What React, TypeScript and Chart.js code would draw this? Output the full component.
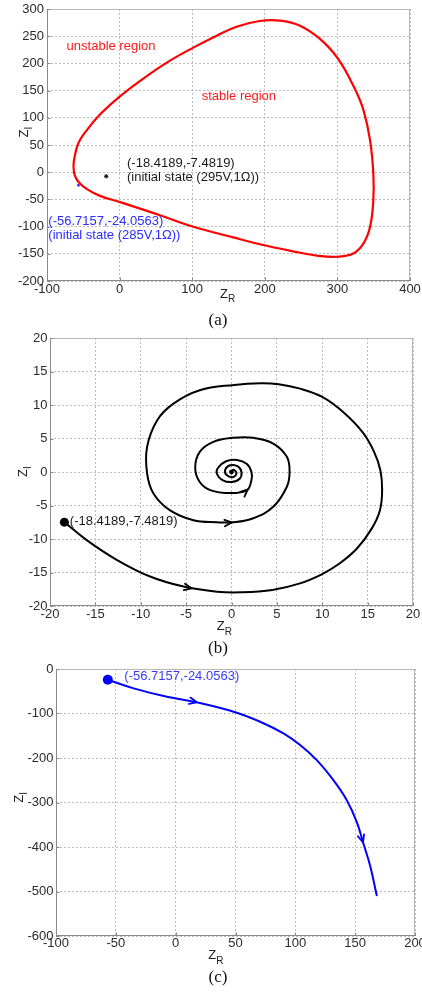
import React, { useEffect, useRef } from "react";
import { Chart, registerables } from "chart.js";

Chart.register(...registerables);

const SANS = '"Liberation Sans", Arial, Helvetica, sans-serif';
const SERIF = '"Liberation Serif", "Times New Roman", serif';

// ---------- (a) stability boundary in the Z_R / Z_I plane ----------
const A_BOUNDARY_ZR = [
  -63.5, -62.8, -56.9, -45.3, -26.7, 0.5, 28.8, 65, 101.5, 133.7, 161, 193, 221, 248.5, 276, 301, 324, 336, 345,
  349.5, 349.5, 345, 336, 322, 299, 276, 248.5, 202.6, 156.7, 101.6, 55.6, 0.5, -27, -45, -56, -62, -63.5,
];
const A_BOUNDARY_ZI = [
  10, 22, 53, 77, 106.6, 139.5, 168.5, 201.5, 229, 251, 267.5, 278, 278.6, 269.4, 245, 208.3, 153.3, 113.6, 58.6,
  -2.6, -51.5, -100.4, -130.9, -149.3, -155.4, -154.2, -148, -135.2, -119.9, -100.4, -79, -55, -43.5, -31, -19, -5, 10,
];
const A_STATE_295V = { x: -18.4189, y: -7.4819 };
const A_STATE_285V = { x: -56.7157, y: -24.0563 };

// ---------- (b) trajectory from the 295V initial state ----------
const B_ZR = [
  -18.4189, -15.96, -12.65, -8.97, -5.29, -1.6, 0.96, 4.5, 7.55, 10, 11.82, 13.8, 15.45, 16.36, 16.6, 16.4, 15.7, 14.5,
  12.3, 10, 7.55, 5.2, 3.2, 0.3, -3.5, -6.4, -8.2, -9.3, -9.3, -8.6, -6.8, -4.2, -1.6, 0.2, 2.4, 4.6, 6.1, 6.4, 6.1,
  4.6, 2.4, 0.2, -2.0, -3.5, -4.0, -3.5, -2.35, -0.15, 1.7, 2.2, 2.2, 1.7, 0.6, -0.6, -1.5, -1.6, -1.0, 0.0, 0.9, 1.1,
  0.7, -0.15, -0.7, -0.5, 0.2, 0.55, 0.2, 0,
];
const B_ZI = [
  -7.4819, -10.16, -13.1, -15.6, -17.1, -17.86, -17.96, -17.6, -16.62, -15.23, -13.74, -11.46, -8.45, -5.7, -2.7, 0.3,
  3.05, 5.85, 8.95, 11.2, 12.44, 13.1, 13.25, 13.0, 12.2, 10.2, 7.7, 3.75, -0.2, -3.2, -5.7, -7.2, -7.5, -7.5, -6.9,
  -5.2, -2.2, 0, 2.26, 4.25, 5.1, 5.1, 4.5, 3.0, 0.6, -1.5, -2.7, -3.15, -2.7, -1.2, 0, 1.2, 1.8, 1.6, 0.6, -0.3, -1.2,
  -1.5, -1.0, 0, 0.85, 1.0, 0.3, -0.5, -0.75, -0.15, 0.35, 0,
];
const B_ARROWS = [
  { x: -4.4, y: -17.2 },
  { x: 0.04, y: -7.48 },
  { x: 1.75, y: -2.55 },
];

// ---------- (c) trajectory from the 285V initial state ----------
const C_ZR = [-56.7157, -35.1, -7.3, 17.7, 48.4, 70.6, 90.1, 104, 117.9, 131.8, 143, 151.3, 156.9, 162.4, 168];
const C_ZI = [-24.0563, -43.5, -62.3, -75, -96, -118.5, -144.8, -171, -204.8, -249.8, -294.8, -343.5, -392.3, -441, -508.5];
const C_ARROWS = [
  { x: 17.7, y: -73.5 },
  { x: 156.9, y: -388.5 },
];

const CAPTIONS = ["(a)", "(b)", "(c)"];

const GRID = "#bcbcbc";
const AXIS_DARK = "#8a8a8a";
const AXIS_LIGHT = "#b8b8b8";
const TICK_TEXT = "#2b2b2b";

const zip = (xs: number[], ys: number[]) => xs.map((x, i) => ({ x, y: ys[i] }));

type PanelCfg = {
  top: number;
  height: number;
  area: { left: number; right: number; top: number; bottom: number };
  x: { min: number; max: number; step: number };
  y: { min: number; max: number; step: number };
  xTickPad: number;
  yTickPad: number;
  datasets: any[];
  arrows: { ds: number; pts: { x: number; y: number }[]; color: string };
  texts: { x: number; y: number; dx?: number; dy?: number; lines: string[]; color: string; gap?: number }[];
  xLabel: { x: number; y: number };
  yLabel: { x: number; y: number };
};

function drawArrow(ctx: CanvasRenderingContext2D, x: number, y: number, ang: number, color: string) {
  const len = 8;
  const a = 0.42;
  ctx.save();
  ctx.strokeStyle = color;
  ctx.lineWidth = 1.8;
  ctx.lineCap = "round";
  ctx.lineJoin = "miter";
  ctx.beginPath();
  ctx.moveTo(x - len * Math.cos(ang - a), y - len * Math.sin(ang - a));
  ctx.lineTo(x, y);
  ctx.lineTo(x - len * Math.cos(ang + a), y - len * Math.sin(ang + a));
  ctx.stroke();
  ctx.restore();
}

// closest point on the drawn bezier path + its tangent
function locateOnCurve(els: any[], tx: number, ty: number) {
  let best = { d: Infinity, x: tx, y: ty, ang: 0 };
  for (let i = 0; i < els.length - 1; i++) {
    const p0 = els[i];
    const p3 = els[i + 1];
    const c1x = p0.cp2x ?? p0.x;
    const c1y = p0.cp2y ?? p0.y;
    const c2x = p3.cp1x ?? p3.x;
    const c2y = p3.cp1y ?? p3.y;
    for (let k = 0; k <= 40; k++) {
      const t = k / 40;
      const u = 1 - t;
      const bx = u * u * u * p0.x + 3 * u * u * t * c1x + 3 * u * t * t * c2x + t * t * t * p3.x;
      const by = u * u * u * p0.y + 3 * u * u * t * c1y + 3 * u * t * t * c2y + t * t * t * p3.y;
      const d = (bx - tx) ** 2 + (by - ty) ** 2;
      if (d < best.d) {
        const dx = 3 * u * u * (c1x - p0.x) + 6 * u * t * (c2x - c1x) + 3 * t * t * (p3.x - c2x);
        const dy = 3 * u * u * (c1y - p0.y) + 6 * u * t * (c2y - c1y) + 3 * t * t * (p3.y - c2y);
        best = { d, x: bx, y: by, ang: Math.atan2(dy, dx) };
      }
    }
  }
  return best;
}

function makeDecor(cfg: PanelCfg) {
  return {
    id: "decor",
    afterDraw(chart: any) {
      const { ctx, chartArea: a, scales } = chart;
      const xs = scales.x;
      const ys = scales.y;
      ctx.save();
      // axes box
      ctx.lineWidth = 1;
      ctx.strokeStyle = AXIS_LIGHT;
      ctx.beginPath();
      ctx.moveTo(a.left, a.top + 0.5);
      ctx.lineTo(a.right, a.top + 0.5);
      ctx.moveTo(a.right - 0.5, a.top);
      ctx.lineTo(a.right - 0.5, a.bottom);
      ctx.stroke();
      ctx.strokeStyle = AXIS_DARK;
      ctx.beginPath();
      ctx.moveTo(a.left + 0.5, a.top);
      ctx.lineTo(a.left + 0.5, a.bottom);
      ctx.moveTo(a.left, a.bottom - 0.5);
      ctx.lineTo(a.right, a.bottom - 0.5);
      xs.ticks.forEach((t: any) => {
        const px = Math.round(xs.getPixelForValue(t.value)) + 0.5;
        ctx.moveTo(px, a.bottom);
        ctx.lineTo(px, a.bottom - 3.5);
      });
      ys.ticks.forEach((t: any) => {
        const py = Math.round(ys.getPixelForValue(t.value)) + 0.5;
        ctx.moveTo(a.left, py);
        ctx.lineTo(a.left + 3.5, py);
      });
      ctx.stroke();

      // arrows along the trajectory
      const els = chart.getDatasetMeta(cfg.arrows.ds).data;
      cfg.arrows.pts.forEach((ar) => {
        const tx = xs.getPixelForValue(ar.x);
        const ty = ys.getPixelForValue(ar.y);
        const hit = locateOnCurve(els, tx, ty);
        drawArrow(ctx, hit.x, hit.y, hit.ang, cfg.arrows.color);
      });

      // annotations
      ctx.font = `13px ${SANS}`;
      ctx.textAlign = "left";
      ctx.textBaseline = "middle";
      cfg.texts.forEach((t) => {
        ctx.fillStyle = t.color;
        const x0 = xs.getPixelForValue(t.x) + (t.dx || 0);
        const y0 = ys.getPixelForValue(t.y) + (t.dy || 0);
        t.lines.forEach((l, i) => ctx.fillText(l, x0, y0 + i * (t.gap || 15)));
      });

      // axis labels Z_R and Z_I
      ctx.fillStyle = "#222";
      ctx.textBaseline = "alphabetic";
      const xl = cfg.xLabel;
      ctx.font = `13px ${SANS}`;
      const wz = ctx.measureText("Z").width;
      ctx.fillText("Z", xl.x, xl.y - cfg.top);
      ctx.font = `10px ${SANS}`;
      ctx.fillText("R", xl.x + wz, xl.y - cfg.top + 4.5);
      const yl = cfg.yLabel;
      ctx.translate(yl.x, yl.y - cfg.top);
      ctx.rotate(-Math.PI / 2);
      ctx.font = `13px ${SANS}`;
      ctx.fillText("Z", 0, 0);
      ctx.font = `10px ${SANS}`;
      ctx.fillText("I", wz, 4);
      ctx.restore();
    },
  };
}

function PanelChart({ cfg }: { cfg: PanelCfg }) {
  const ref = useRef<HTMLCanvasElement>(null);
  useEffect(() => {
    const W = 422;
    const H = cfg.height;
    const areaTop = cfg.area.top - cfg.top;
    const areaBottom = cfg.area.bottom - cfg.top;
    const tickFont = { family: SANS, size: 13 };
    const chart = new Chart(ref.current as HTMLCanvasElement, {
      type: "line",
      data: { datasets: cfg.datasets },
      options: {
        animation: false,
        responsive: false,
        devicePixelRatio: 1,
        events: [],
        layout: { padding: { left: 0, right: W - cfg.area.right, top: areaTop, bottom: 0 } },
        plugins: { legend: { display: false }, tooltip: { enabled: false }, title: { display: false } },
        scales: {
          x: {
            type: "linear",
            position: "bottom",
            min: cfg.x.min,
            max: cfg.x.max,
            ticks: {
              stepSize: cfg.x.step,
              autoSkip: false,
              maxRotation: 0,
              padding: cfg.xTickPad,
              color: TICK_TEXT,
              font: tickFont,
            },
            grid: { color: GRID, lineWidth: 1, drawTicks: false },
            border: { display: false, dash: [2, 2] },
            afterFit: (s: any) => {
              s.height = H - areaBottom;
              s.paddingLeft = 0;
              s.paddingRight = 0;
            },
          },
          y: {
            type: "linear",
            position: "left",
            min: cfg.y.min,
            max: cfg.y.max,
            ticks: {
              stepSize: cfg.y.step,
              autoSkip: false,
              padding: cfg.yTickPad,
              color: TICK_TEXT,
              font: tickFont,
            },
            grid: { color: GRID, lineWidth: 1, drawTicks: false },
            border: { display: false, dash: [2, 2] },
            afterFit: (s: any) => {
              s.width = cfg.area.left;
              s.paddingTop = 0;
              s.paddingBottom = 0;
            },
          },
        },
      } as any,
      plugins: [makeDecor(cfg) as any],
    });
    return () => chart.destroy();
  }, [cfg]);
  return (
    <canvas
      ref={ref}
      width={422}
      height={cfg.height}
      style={{ position: "absolute", left: 0, top: cfg.top, width: 422, height: cfg.height }}
    />
  );
}

const line = (data: any[], color: string, width: number) => ({
  data,
  showLine: true,
  borderColor: color,
  backgroundColor: color,
  borderWidth: width,
  borderCapStyle: "round",
  borderJoinStyle: "round",
  pointRadius: 0,
  tension: 0.4,
  cubicInterpolationMode: "default",
  fill: false,
});

const marker = (pt: { x: number; y: number }, color: string, radius: number, style = "circle") => ({
  data: [pt],
  showLine: false,
  pointStyle: style,
  pointRadius: radius,
  backgroundColor: color,
  borderColor: color,
  borderWidth: style === "circle" ? 0 : 1,
});

const PANEL_A: PanelCfg = {
  top: 0,
  height: 312,
  area: { left: 47, right: 410, top: 9, bottom: 281 },
  x: { min: -100, max: 400, step: 100 },
  y: { min: -200, max: 300, step: 50 },
  xTickPad: 1,
  yTickPad: 3,
  datasets: [
    marker(A_STATE_295V, "#000000", 2.2, "star"),
    marker(A_STATE_285V, "#2233ff", 1.4),
    line(zip(A_BOUNDARY_ZR, A_BOUNDARY_ZI), "#ff0000", 2.2),
  ],
  arrows: { ds: 2, pts: [], color: "#000" },
  texts: [
    { x: -73, y: 232, lines: ["unstable region"], color: "#ff1a1a" },
    { x: 113, y: 138.4, lines: ["stable region"], color: "#ff1a1a" },
    {
      x: 10.2,
      y: 16.7,
      lines: ["(-18.4189,-7.4819)", "(initial state (295V,1Ω))"],
      color: "#1a1a1a",
      gap: 14.6,
    },
    {
      x: -98.2,
      y: -89.8,
      lines: ["(-56.7157,-24.0563)", "(initial state (285V,1Ω))"],
      color: "#2b2bff",
      gap: 14.5,
    },
  ],
  xLabel: { x: 220, y: 297.5 },
  yLabel: { x: 28.3, y: 137.5 },
};

const PANEL_B: PanelCfg = {
  top: 312,
  height: 332,
  area: { left: 50, right: 413, top: 338, bottom: 606 },
  x: { min: -20, max: 20, step: 5 },
  y: { min: -20, max: 20, step: 5 },
  xTickPad: 1,
  yTickPad: 2.5,
  datasets: [
    marker({ x: B_ZR[0], y: B_ZI[0] }, "#000000", 4.5),
    marker({ x: B_ZR[B_ZR.length - 1], y: B_ZI[B_ZI.length - 1] }, "#000000", 2.4),
    line(zip(B_ZR, B_ZI), "#000000", 2),
  ],
  arrows: { ds: 2, pts: B_ARROWS, color: "#000000" },
  texts: [{ x: B_ZR[0], y: B_ZI[0], dx: 5.5, dy: -1, lines: ["(-18.4189,-7.4819)"], color: "#1a1a1a" }],
  xLabel: { x: 216.7, y: 630 },
  yLabel: { x: 26.7, y: 477 },
};

const PANEL_C: PanelCfg = {
  top: 655,
  height: 330,
  area: { left: 56, right: 415, top: 669, bottom: 936 },
  x: { min: -100, max: 200, step: 50 },
  y: { min: -600, max: 0, step: 100 },
  xTickPad: 0,
  yTickPad: 2.5,
  datasets: [
    marker({ x: C_ZR[0], y: C_ZI[0] }, "#0000ff", 5),
    line(zip(C_ZR, C_ZI), "#0000ff", 2),
  ],
  arrows: { ds: 1, pts: C_ARROWS, color: "#0000ff" },
  texts: [{ x: C_ZR[0], y: C_ZI[0], dx: 16.5, dy: -3, lines: ["(-56.7157,-24.0563)"], color: "#3a3aff" }],
  xLabel: { x: 208.3, y: 959.3 },
  yLabel: { x: 22.7, y: 802.7 },
};

const CAPTION_Y = [320, 648, 977];

export default function App() {
  return (
    <div style={{ position: "absolute", left: 0, top: 0, width: 422, height: 993, background: "#fff", overflow: "hidden" }}>
      <PanelChart cfg={PANEL_A} />
      <PanelChart cfg={PANEL_B} />
      <PanelChart cfg={PANEL_C} />
      {CAPTIONS.map((c, i) => (
        <div
          key={c}
          style={{
            position: "absolute",
            left: 0,
            width: 436,
            top: CAPTION_Y[i] - 10,
            height: 20,
            lineHeight: "20px",
            textAlign: "center",
            fontFamily: SERIF,
            fontSize: 17,
            color: "#111",
          }}
        >
          {c}
        </div>
      ))}
    </div>
  );
}
